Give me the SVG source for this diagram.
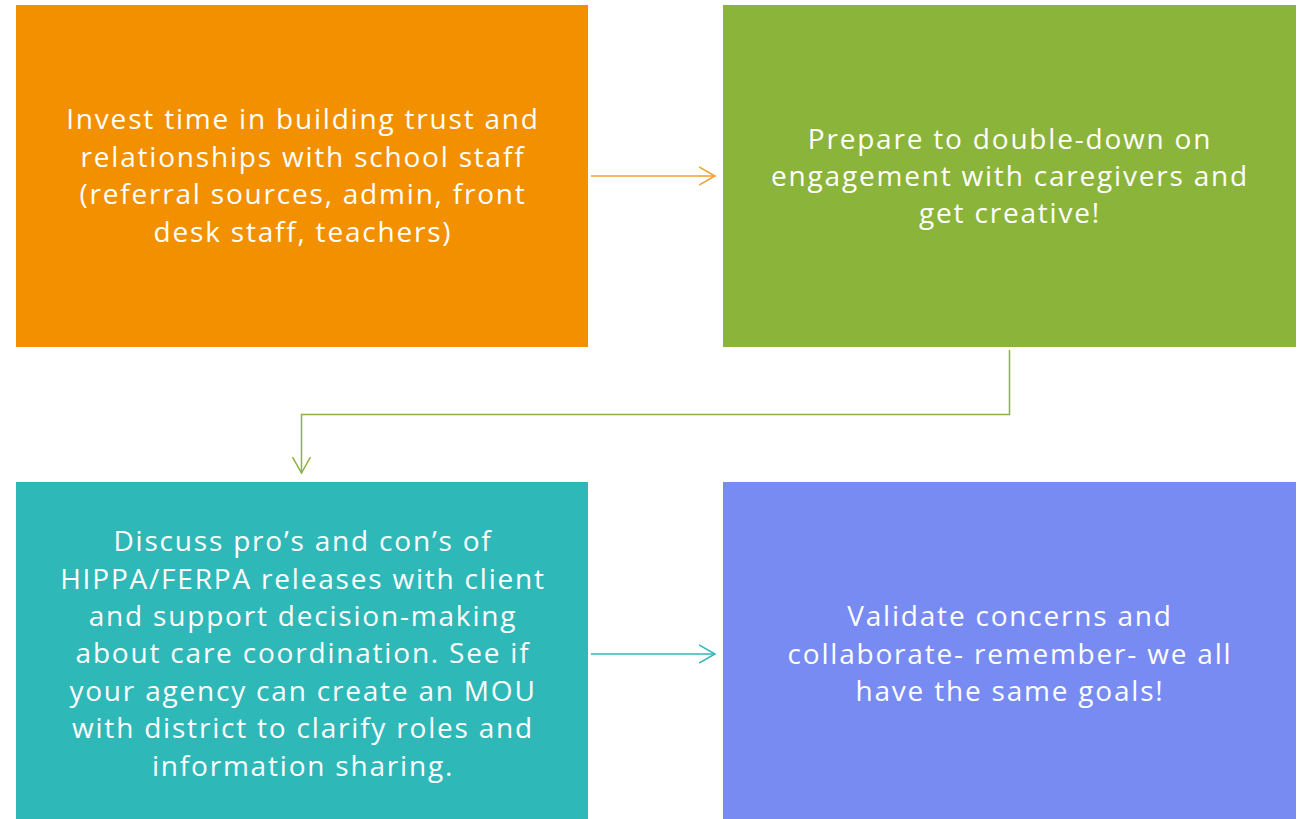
<svg xmlns="http://www.w3.org/2000/svg" width="1298" height="819" viewBox="0 0 1298 819">
<style>
.t{font-family:"Open Sans","Liberation Sans",sans-serif;font-size:28px;letter-spacing:1.8px;fill:#fff;text-anchor:middle}
.c{fill:none;stroke-width:1.5}
</style>
<defs>
<marker id="ao" markerWidth="20" markerHeight="20" refX="16" refY="10" orient="auto" markerUnits="userSpaceOnUse"><path d="M0,1 L16,10 L0,19" fill="none" stroke="#F5A02E" stroke-width="1.5"/></marker>
<marker id="ag" markerWidth="20" markerHeight="20" refX="16" refY="10" orient="auto" markerUnits="userSpaceOnUse"><path d="M0,1 L16,10 L0,19" fill="none" stroke="#8BB43A" stroke-width="1.5"/></marker>
<marker id="at" markerWidth="20" markerHeight="20" refX="16" refY="10" orient="auto" markerUnits="userSpaceOnUse"><path d="M0,1 L16,10 L0,19" fill="none" stroke="#2FB8B8" stroke-width="1.5"/></marker>
</defs>
<rect width="1298" height="819" fill="#fff"/>
<g id="n1"><rect x="16" y="5" width="572" height="342" fill="#F39000"/>
<text class="t"><tspan x="303" y="129">Invest time in building trust and</tspan><tspan x="303" y="167">relationships with school staff</tspan><tspan x="303" y="204">(referral sources, admin, front</tspan><tspan x="303" y="242">desk staff, teachers)</tspan></text></g>
<g id="n2"><rect x="723" y="5" width="573" height="342" fill="#8BB43A"/>
<text class="t"><tspan x="1010" y="149">Prepare to double-down on</tspan><tspan x="1010" y="186">engagement with caregivers and</tspan><tspan x="1010" y="223">get creative!</tspan></text></g>
<g id="n3"><rect x="16" y="482" width="572" height="337" fill="#2FB8B8"/>
<text class="t"><tspan x="303" y="551">Discuss pro’s and con’s of</tspan><tspan x="303" y="589">HIPPA/FERPA releases with client</tspan><tspan x="303" y="626">and support decision-making</tspan><tspan x="303" y="663">about care coordination. See if</tspan><tspan x="303" y="701">your agency can create an MOU</tspan><tspan x="303" y="738">with district to clarify roles and</tspan><tspan x="303" y="776">information sharing.</tspan></text></g>
<g id="n4"><rect x="723" y="482" width="573" height="337" fill="#778BF2"/>
<text class="t"><tspan x="1010" y="626">Validate concerns and</tspan><tspan x="1010" y="664">collaborate- remember- we all</tspan><tspan x="1010" y="701">have the same goals!</tspan></text></g>
<g id="connectors">
<path class="c" stroke="#F5A02E" d="M591,176 H715" marker-end="url(#ao)"/>
<path class="c" stroke="#8BB43A" d="M1009.5,350 V414.5 H301.5 V473" marker-end="url(#ag)"/>
<path class="c" stroke="#2FB8B8" d="M591,654 H715" marker-end="url(#at)"/>
</g>
</svg>
